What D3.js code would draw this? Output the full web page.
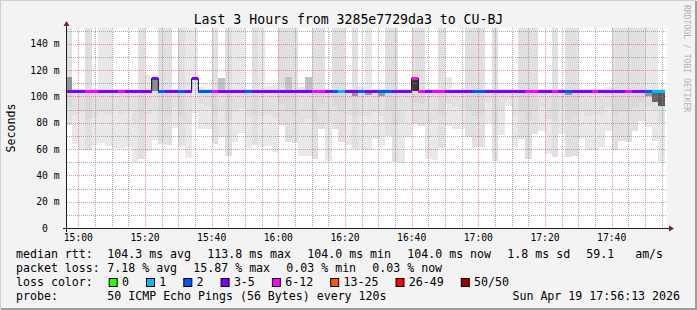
<!DOCTYPE html>
<html>
<head>
<meta charset="utf-8">
<script src="https://cdnjs.cloudflare.com/ajax/libs/d3/7.8.5/d3.min.js"></script>
<style>
body { margin: 0; background: #f3f3f3; }
svg { display: block; }
text { font-family: "DejaVu Sans Mono", monospace; fill: #000; }
</style>
</head>
<body>
<svg id="chart" width="697" height="310"></svg>
<script>
// smokeping style graph: 90 steps of 120 s, 50 pings each

var title = "Last 3 Hours from 3285e7729da3 to CU-BJ";
var firstStep = Date.UTC(2026, 3, 19, 14, 56, 0);
var stepMs = 120 * 1000;
var viewStart = Date.UTC(2026, 3, 19, 14, 56, 36),
    viewEnd = Date.UTC(2026, 3, 19, 17, 56, 36);

// median rtt per step (ms)
var median = [
 104.1,104.1,104.1,104.1,104.1,104.1,104.1,104.1,104.1,104.1,
 104.1,104.1,104.1,113.8,104.1,104.1,104.1,104.1,104.1,113.6,
 104.1,104.1,104.1,104.1,104.1,104.1,104.1,104.1,104.1,104.1,
 104.1,104.1,104.1,104.1,104.1,104.1,104.1,104.1,104.1,104.1,
 104.1,104.1,104.1,104.1,104.1,104.1,104.1,104.1,104.1,104.1,
 104.1,104.1,113.8,104.1,104.1,104.1,104.1,104.1,104.1,104.1,
 104.1,104.1,104.1,104.1,104.1,104.1,104.1,104.1,104.1,104.1,
 104.1,104.1,104.1,104.1,104.1,104.1,104.1,104.1,104.1,104.1,
 104.1,104.1,104.1,104.1,104.1,104.1,104.1,104.1,104.1,104.1
];

// lost pings per step (of 50)
var lossPings = [
 4,4,3,7,8,4,5,4,7,4,
 3,4,5,4,2,4,4,2,4,5,
 2,2,7,4,4,3,4,2,4,4,
 4,5,4,4,3,4,4,8,7,4,
 2,1,4,5,2,4,3,2,2,4,
 4,4,9,7,4,7,6,4,4,3,
 4,2,2,4,5,4,4,3,4,7,
 8,4,4,7,4,2,4,3,4,7,
 4,4,5,4,7,4,4,2,1,1
];

// outer smoke pair: highest and lowest ping shown (ms), and its shade rank
var outerHi = [
 160,105.3,105.3,160,105.3,160,160,105.3,105.3,105.3,
 105.3,160,116,116.5,160,160,105.3,160,160,160,
 107,105.3,160,105.3,160,160,160,105.3,160,160,
 108,109,160,160,160,107,105.3,160,160,105.3,
 160,160,105.3,160,107,160,105.3,105.3,160,160,
 105.3,106,160,160,105.3,106,160,115,105.3,105.3,
 160,160,160,105.3,160,105.3,105.3,105.3,160,160,
 160,105.3,105.3,160,105.3,160,160,105.3,105.3,105.3,
 105.3,107,160,160,160,160,160,160,160,105.3
];
var outerLo = [
 78.5,63.5,59.5,59.5,63,64.5,62,61,61,61.5,
 50.5,52.5,58.5,67,64,63,76,62,53.5,87.5,
 75,75.5,63.5,69,55,65.5,72.5,61,63,61.5,
 62.5,57.5,78.5,65,64.5,55,55,52.5,75,51,
 75,65,63,60,60,59,67.5,62.5,70,50,
 49.5,69,79,77.5,52.5,51.5,61,77.5,75,75,
 69,61.5,61.5,80,51,71,92.5,62.5,67.5,52.5,
 71.5,74,56,54,71.5,54,55,67.5,59,59,
 61.5,74,59.5,66,65,74,81,76.5,66.5,50
];
var outerRank = [
 2,1,1,2,1,1,1,1,1,1,
 1,2,1,1,2,2,1,2,1,1,
 1,1,2,1,2,1,1,1,2,1,
 1,1,2,2,2,1,1,2,2,1,
 2,2,1,2,1,1,1,1,2,2,
 1,1,2,2,1,1,2,1,1,1,
 2,2,2,1,2,1,1,1,2,2,
 2,1,1,2,1,2,2,1,1,1,
 1,1,2,2,2,2,2,1,1,1
];

// middle smoke pair (ms)
var midHi = [
 105.6,105.6,105.6,105.6,105.6,105.6,105.6,105.6,105.6,105.6,
 105.6,105.6,105.6,105.6,105.6,105.6,105.6,105.6,105.6,104.1,
 105.6,105.6,105.6,105.6,105.6,105.6,105.6,105.6,105.6,105.6,
 105.6,105.6,105.6,105.6,105.6,105.6,105.6,105.6,105.6,105.6,
 105.6,105.6,105.6,105.6,105.6,105.6,105.6,105.6,105.6,105.6,
 105.6,105.6,105.6,105.6,105.6,105.6,105.6,105.6,105.6,105.6,
 105.6,105.6,105.6,105.6,105.6,105.6,105.6,105.6,105.6,105.6,
 105.6,105.6,105.6,105.6,105.6,105.6,105.6,105.6,105.6,105.6,
 105.6,105.6,105.6,105.6,105.6,105.6,105.6,105.6,105.6,105.6
];
var midLo = [
 92,86,88,83,84,88,86,90,87,89,
 80,82,87,90,88,85,92,84,79,104,
 94,92,86,90,82,88,91,84,86,85,
 87,84,94,88,86,80,83,81,92,80,
 93,88,86,84,85,84,88,85,90,78,
 80,90,95,94,80,82,86,94,92,91,
 90,85,86,96,80,90,98,86,88,82,
 90,92,83,81,90,82,84,88,85,86,
 86,92,85,88,88,92,95,92,90,80
];

// inner (dense) smoke pair (ms) and its shade rank
var innerHi = [
 114.5,104.1,104.1,104.1,104.1,104.1,104.1,104.1,104.1,104.1,
 104.1,104.1,104.1,113.8,104.1,104.1,104.1,104.1,104.1,104.1,
 104.1,104.1,104.1,114,104.1,104.1,104.1,104.1,104.1,104.1,
 104.1,104.1,104.1,115,104.1,104.1,114.5,104.1,104.1,104.1,
 104.1,104.1,104.1,104.1,104.1,104.1,104.1,104.1,104.1,104.1,
 104.1,104.1,113.8,104.1,104.1,104.1,104.1,104.1,104.1,104.1,
 104.1,104.1,104.1,104.1,104.1,104.1,104.1,104.1,104.1,104.1,
 104.1,104.1,104.1,104.1,104.1,104.1,104.1,104.1,104.1,104.1,
 104.1,104.1,104.1,104.1,104.1,104.1,104.1,104.1,104.1,104.1
];
var innerLo = [
 104.1,104.1,104.1,104.1,104.1,104.1,104.1,104.1,104.1,104.1,
 104.1,104.1,104.1,104.1,104.1,104.1,104.1,104.1,104.1,104.1,
 104.1,104.1,104.1,103,104.1,104.1,104.1,104.1,104.1,104.1,
 104.1,104.1,104.1,103,104.1,104.1,103,104.1,104.1,104.1,
 104.1,104.1,104.1,100,104.1,101,104.1,100.5,104.1,104.1,
 104.1,104.1,104.1,104.1,104.1,104.1,104.1,104.1,104.1,104.1,
 104.1,104.1,104.1,104.1,104.1,104.1,104.1,104.1,104.1,104.1,
 104.1,104.1,104.1,104.1,104.1,101,104.1,104.1,104.1,104.1,
 104.1,104.1,104.1,104.1,104.1,104.1,104.1,100,96,93
];
var innerRank = [
 12,10,10,10,10,10,10,10,10,10,
 10,10,10,13,10,10,10,10,10,10,
 10,10,10,6,10,10,10,10,10,10,
 10,10,10,6,10,10,6,10,10,10,
 10,10,10,12,10,11,10,11,10,10,
 10,10,24,10,10,10,10,10,10,10,
 10,10,10,10,10,10,10,10,10,10,
 10,10,10,10,10,11,10,10,10,10,
 10,10,10,10,10,10,10,12,18,20
];

var yLabels = [0, 20, 40, 60, 80, 100, 120, 140];
var yMinor = [10, 30, 50, 70, 90, 110, 130, 150];

var lossLabels = ["0", "1", "2", "3-5", "6-12", "13-25", "26-49", "50/50"];
var lossBreaks = [1, 2, 3, 6, 13, 26, 50];
var lossColors = ["#26ff00", "#00b8ff", "#0059ff", "#7e00ff", "#ff00ff", "#ff5500", "#ff0000", "#a10000"];

var legendRtt = ["104.3 ms avg", "113.8 ms max", "104.0 ms min", "104.0 ms now", "1.8 ms sd", "59.1   am/s"];
var legendLoss = ["7.18 % avg", "15.87 % max", "0.03 % min", "0.03 % now"];
var probeText = "50 ICMP Echo Pings (56 Bytes) every 120s";
var stampText = "Sun Apr 19 17:56:13 2026";

////////////////////////////////////////////////////////////
//////////////////////// Set-Up ////////////////////////////
////////////////////////////////////////////////////////////
var W = 697, H = 310;
var plot = {left: 67, top: 28, right: 667, bottom: 228};
var cw = 7.0; // legend char width

var x = d3.scaleUtc().domain([viewStart, viewEnd]).range([plot.left, plot.right]);
var y = d3.scaleLinear().domain([0, 152]).range([plot.bottom, plot.top]);
var lossColor = d3.scaleThreshold().domain(lossBreaks).range(lossColors);

function shade(rank) {
  var c = Math.floor(190 / 25 * (25 - rank)) + 50;
  return d3.rgb(c, c, c).formatHex();
}

var svg = d3.select("#chart");

// background and 3d frame
svg.append("rect").attr("width", W).attr("height", H).attr("fill", "#f3f3f3");
svg.append("path").attr("d", "M0,309V0H696").attr("fill", "none")
  .attr("stroke", "#cfcfcf").attr("stroke-width", 2);
svg.append("path").attr("d", "M1,309H696V1").attr("fill", "none")
  .attr("stroke", "#9e9e9e").attr("stroke-width", 2);

svg.append("defs").append("clipPath").attr("id", "plotClip")
  .append("rect").attr("x", plot.left).attr("y", plot.top)
  .attr("width", plot.right - plot.left).attr("height", plot.bottom - plot.top);

svg.append("rect").attr("x", plot.left).attr("y", plot.top)
  .attr("width", plot.right - plot.left).attr("height", plot.bottom - plot.top)
  .attr("fill", "#ffffff");

var steps = median.map(function(m, i) {
  return {i: i, t0: firstStep + i * stepMs, t1: firstStep + (i + 1) * stepMs};
});

////////////////////////////////////////////////////////////
////////////////////// Smoke ///////////////////////////////
////////////////////////////////////////////////////////////
var smoke = svg.append("g").attr("clip-path", "url(#plotClip)")
  .attr("shape-rendering", "crispEdges");

function layer(lo, hi, col) {
  smoke.append("g").selectAll("rect")
    .data(steps.filter(function(d) { return hi[d.i] > lo[d.i]; }))
    .enter().append("rect")
    .attr("x", function(d) { return x(d.t0); })
    .attr("width", function(d) { return x(d.t1) - x(d.t0); })
    .attr("y", function(d) { return y(hi[d.i]); })
    .attr("height", function(d) { return y(lo[d.i]) - y(hi[d.i]); })
    .attr("fill", col);
}
layer(outerLo, outerHi, function(d) { return shade(outerRank[d.i]); });
layer(midLo, midHi, function(d) { return shade(outerRank[d.i] + 1); });
layer(innerLo, innerHi, function(d) { return shade(innerRank[d.i]); });

////////////////////////////////////////////////////////////
////////////////////// Grid ////////////////////////////////
////////////////////////////////////////////////////////////
var grid = svg.append("g").attr("shape-rendering", "crispEdges");
var minorCol = "rgba(143,143,143,0.75)", majorCol = "rgba(222,79,79,0.6)";

x.ticks(d3.utcMinute.every(5)).forEach(function(t) {
  var px = Math.round(x(t)) + 0.5;
  grid.append("line").attr("x1", px).attr("x2", px)
    .attr("y1", plot.top).attr("y2", plot.bottom)
    .attr("stroke", t.getUTCMinutes() % 20 === 0 ? majorCol : minorCol)
    .attr("stroke-dasharray", "1,1");
});
yMinor.concat(yLabels.slice(1)).forEach(function(v) {
  var py = Math.round(y(v)) + 0.5;
  grid.append("line").attr("x1", plot.left).attr("x2", plot.right)
    .attr("y1", py).attr("y2", py)
    .attr("stroke", yLabels.indexOf(v) >= 0 ? majorCol : minorCol)
    .attr("stroke-dasharray", "1,1");
});

////////////////////////////////////////////////////////////
////////////////////// Median //////////////////////////////
////////////////////////////////////////////////////////////
var medPts = [];
steps.forEach(function(d) {
  medPts.push([d.t0, median[d.i]]);
  medPts.push([d.t1, median[d.i]]);
});
var plotG = svg.append("g").attr("clip-path", "url(#plotClip)");
plotG.append("path")
  .attr("d", d3.line().x(function(d) { return x(d[0]); }).y(function(d) { return y(d[1]); })(medPts))
  .attr("fill", "none").attr("stroke", "#000").attr("stroke-width", 1);

plotG.append("g").attr("shape-rendering", "crispEdges").selectAll("rect")
  .data(steps).enter().append("rect")
  .attr("x", function(d) { return x(d.t0); })
  .attr("width", function(d) { return x(d.t1) - x(d.t0); })
  .attr("y", function(d) { return y(median[d.i]) - 1.5; })
  .attr("height", 3)
  .attr("fill", function(d) { return lossColor(lossPings[d.i]); });

////////////////////////////////////////////////////////////
////////////////////// Axes ////////////////////////////////
////////////////////////////////////////////////////////////
svg.append("line").attr("x1", plot.left - 4).attr("x2", plot.right + 2)
  .attr("y1", plot.bottom + 0.5).attr("y2", plot.bottom + 0.5)
  .attr("stroke", "#1f1f1f");
svg.append("line").attr("x1", plot.left - 0.5).attr("x2", plot.left - 0.5)
  .attr("y1", plot.bottom + 4).attr("y2", plot.top - 3)
  .attr("stroke", "#1f1f1f");
svg.append("path").attr("d", "M" + (plot.right + 7) + "," + (plot.bottom + 0.5) +
    "L" + (plot.right + 2) + "," + (plot.bottom - 2.5) + "L" + (plot.right + 2) + "," + (plot.bottom + 3.5) + "Z")
  .attr("fill", "#7f1f1f");
svg.append("path").attr("d", "M" + (plot.left - 0.5) + "," + (plot.top - 7) +
    "L" + (plot.left - 3.5) + "," + (plot.top - 2) + "L" + (plot.left + 2.5) + "," + (plot.top - 2) + "Z")
  .attr("fill", "#7f1f1f");

var axisFont = 9.7, axisCw = 0.602 * axisFont;
svg.append("g").selectAll("text")
  .data(x.ticks(d3.utcMinute.every(20))).enter().append("text")
  .attr("x", function(d) { return x(d); })
  .attr("y", 241)
  .attr("text-anchor", "middle")
  .style("font-size", axisFont + "px")
  .text(d3.utcFormat("%H:%M"));

svg.append("g").selectAll("text")
  .data(yLabels).enter().append("text")
  .attr("x", function(d) { return d === 0 ? 59.5 - 2 * axisCw : 59.5; })
  .attr("y", function(d) { return y(d) + 3.5; })
  .attr("text-anchor", "end")
  .style("font-size", axisFont + "px")
  .text(function(d) { return d === 0 ? "0" : d + " m"; });

svg.append("text")
  .attr("transform", "translate(15," + ((plot.top + plot.bottom) / 2) + ") rotate(-90)")
  .attr("text-anchor", "middle")
  .style("font-size", "11.6px")
  .text("Seconds");

svg.append("text")
  .attr("x", W / 2).attr("y", 24)
  .attr("text-anchor", "middle")
  .style("font-size", "13.2px")
  .text(title);

svg.append("text")
  .attr("transform", "translate(684,5) rotate(90)")
  .style("font-size", "8.1px")
  .style("fill", "#b4b4b4")
  .text("RRDTOOL / TOBI OETIKER");

////////////////////////////////////////////////////////////
////////////////////// Legend //////////////////////////////
////////////////////////////////////////////////////////////
var legend = svg.append("g").style("font-size", "11.6px");
var col0 = 16, col1 = 107.3, gap = 16;

function row(label, items, base) {
  legend.append("text").attr("x", col0).attr("y", base)
    .attr("xml:space", "preserve").text(label);
  var px = col1;
  items.forEach(function(s) {
    legend.append("text").attr("x", px).attr("y", base)
      .attr("xml:space", "preserve").text(s);
    px += s.length * cw + gap;
  });
}
row("median rtt:", legendRtt, 258);
row("packet loss:", legendLoss, 272);

legend.append("text").attr("x", col0).attr("y", 286).text("loss color:");
var bx = 108.7;
lossLabels.forEach(function(l, i) {
  legend.append("rect").attr("x", bx + 0.5).attr("y", 278.5)
    .attr("width", 8).attr("height", 8)
    .attr("fill", lossColors[i]).attr("stroke", "#000").attr("stroke-width", 1);
  legend.append("text").attr("x", bx + 13.3).attr("y", 286).text(l);
  bx += 13.3 + l.length * cw + 17;
});

row("probe:", [probeText], 299.5);
legend.append("text").attr("x", 680).attr("y", 299.5)
  .attr("text-anchor", "end").text(stampText);
</script>
</body>
</html>
